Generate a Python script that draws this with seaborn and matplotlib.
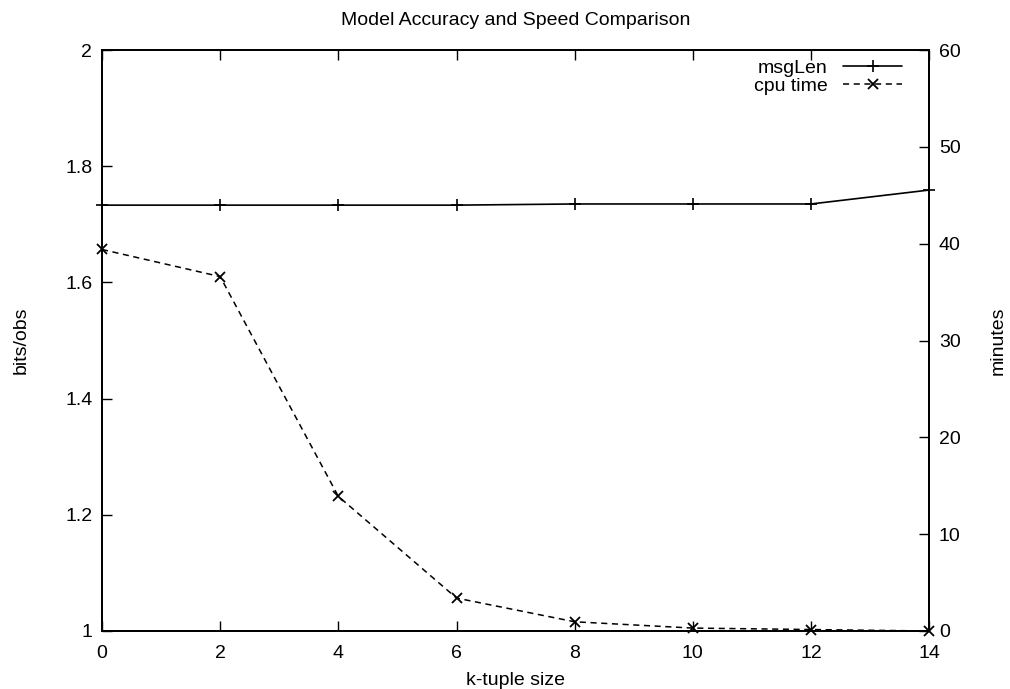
import numpy as np
import pandas as pd
import matplotlib
matplotlib.use("Agg")
import matplotlib.pyplot as plt
import seaborn as sns
from matplotlib.ticker import FormatStrFormatter

# data
k_size = [0, 2, 4, 6, 8, 10, 12, 14]
msg_len = [1.733, 1.733, 1.733, 1.733, 1.735, 1.735, 1.735, 1.759]
cpu_minutes = [39.4, 36.6, 13.9, 3.4, 0.95, 0.3, 0.15, 0.0]

df = pd.DataFrame({"k": k_size, "msgLen": msg_len, "cpu": cpu_minutes})

sns.set_style("ticks")
plt.rcParams["font.family"] = ["Liberation Sans", "DejaVu Sans"]
plt.rcParams["text.color"] = "black"
plt.rcParams["axes.labelcolor"] = "black"
plt.rcParams["xtick.direction"] = "in"
plt.rcParams["ytick.direction"] = "in"

fig = plt.figure(figsize=(10.1, 6.89), dpi=100)
ax = fig.add_axes([0.101, 0.0842, 0.819, 0.8432])
ax2 = ax.twinx()

sns.lineplot(data=df, x="k", y="msgLen", ax=ax, color="black", linewidth=1.2,
             marker="+", markersize=8, markeredgewidth=1.2,
             markeredgecolor="black", clip_on=False)
sns.lineplot(data=df, x="k", y="cpu", ax=ax2, color="black", linewidth=1.1,
             marker="x", markersize=7, markeredgewidth=1.3,
             markeredgecolor="black", clip_on=False)
ax2.lines[0].set_dashes([4, 3])

ax.set_xlim(0, 14)
ax.set_ylim(1, 2)
ax2.set_ylim(0, 60)
ax.set_xticks(range(0, 15, 2))
ax.set_yticks([1, 1.2, 1.4, 1.6, 1.8, 2])
ax.yaxis.set_major_formatter(FormatStrFormatter("%g"))
ax2.set_yticks(range(0, 61, 10))

fs = 14
ax.tick_params(axis="both", labelsize=fs, length=7, width=1, colors="black", pad=7)
ax.tick_params(axis="x", top=True, labeltop=False, pad=10)
ax2.tick_params(axis="y", labelsize=fs, length=7, width=1, colors="black", pad=7)

for a in (ax, ax2):
    for s in a.spines.values():
        s.set_visible(True)
        s.set_linewidth(1.3)
        s.set_color("black")

ax.set_xlabel("k-tuple size", fontsize=fs)
ax.set_ylabel("bits/obs", fontsize=fs)
ax2.set_ylabel("minutes", fontsize=fs)
ax.xaxis.set_label_coords(0.5, -0.07)
ax.yaxis.set_label_coords(-0.087, 0.5)
ax2.yaxis.set_label_coords(1.073, 0.5)
ax.set_title("Model Accuracy and Speed Comparison", fontsize=fs, pad=18)

h1 = ax.lines[0]
h2 = ax2.lines[0]
ax2.legend([h1, h2], ["msgLen", "cpu time"], loc="upper right", frameon=False,
           markerfirst=False, fontsize=fs, handlelength=3.0, labelspacing=0.0,
           borderaxespad=0.3, borderpad=0.3, handletextpad=0.8,
           bbox_to_anchor=(0.981, 1.004))

fig.savefig("out.png", dpi=100)
